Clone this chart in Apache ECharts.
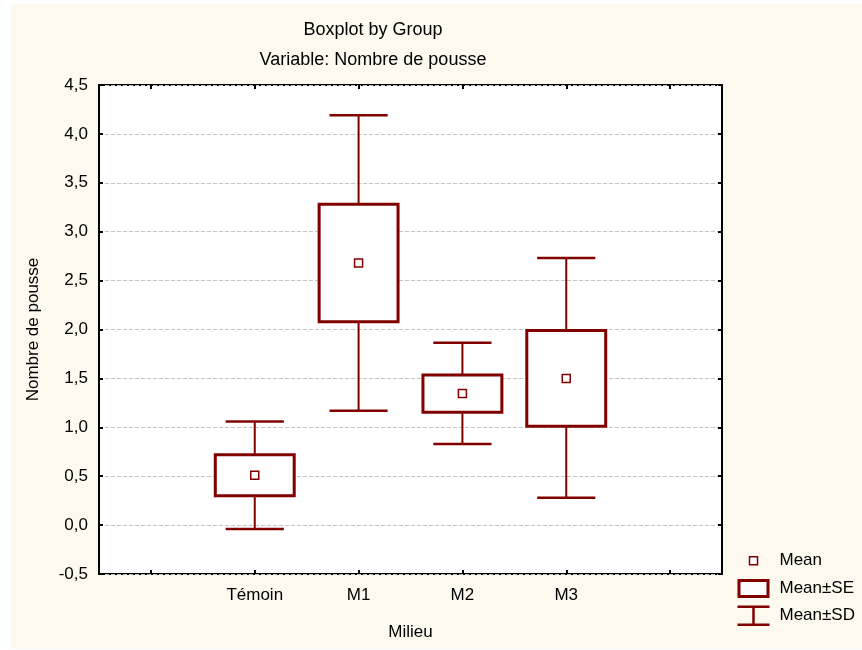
<!DOCTYPE html>
<html>
<head>
<meta charset="utf-8">
<script src="https://cdn.jsdelivr.net/npm/echarts@6/dist/echarts.min.js"></script>
<style>html,body{margin:0;padding:0;background:#fff;}#c{width:862px;height:650px;}</style>
</head>
<body>
<div id="c"></div>
<script>
// ---- data ----
const categories = ['', 'Témoin', 'M1', 'M2', 'M3', ' '];
const groups = ['Témoin', 'M1', 'M2', 'M3'];
const means  = [0.51, 2.68, 1.345, 1.50];
const seLow  = [0.30, 2.08, 1.155, 1.01];
const seHigh = [0.72, 3.28, 1.535, 1.99];
const sdLow  = [-0.04, 1.17, 0.83, 0.28];
const sdHigh = [1.06, 4.19, 1.865, 2.73];
const yMin = -0.5, yMax = 4.5, yStep = 0.5;
const legendNames = ['Mean', 'Mean±SE', 'Mean±SD'];

const RED = '#800000';
const FONT = 'Liberation Sans, Arial, sans-serif';

const sdData = groups.map((g, i) => [g, sdLow[i], sdHigh[i]]);
const seData = groups.map((g, i) => [g, seLow[i], seHigh[i]]);
const meanData = groups.map((g, i) => [g, means[i]]);

function renderSD(params, api) {
  const x = api.value(0);
  const lo = api.coord([x, api.value(1)]);
  const hi = api.coord([x, api.value(2)]);
  const band = api.size([1, 0])[0];
  const half = band * 0.28;
  const st = {stroke: RED, lineWidth: 2.5, fill: null};
  return {
    type: 'group',
    children: [
      {type: 'line', shape: {x1: lo[0], y1: lo[1], x2: hi[0], y2: hi[1]}, style: {stroke: RED, lineWidth: 2}},
      {type: 'line', shape: {x1: hi[0] - half, y1: hi[1], x2: hi[0] + half, y2: hi[1]}, style: st},
      {type: 'line', shape: {x1: lo[0] - half, y1: lo[1], x2: lo[0] + half, y2: lo[1]}, style: st}
    ]
  };
}
function renderSE(params, api) {
  const x = api.value(0);
  const lo = api.coord([x, api.value(1)]);
  const hi = api.coord([x, api.value(2)]);
  const band = api.size([1, 0])[0];
  const w = band * 0.76;
  return {
    type: 'rect',
    shape: {x: hi[0] - w / 2, y: hi[1], width: w, height: lo[1] - hi[1]},
    style: {fill: '#fff', stroke: RED, lineWidth: 3}
  };
}

const chart = echarts.init(document.getElementById('c'), null, {renderer: 'canvas'});
const option = {
  backgroundColor: '#ffffff',
  animation: false,
  textStyle: {fontFamily: FONT},
  graphic: [{
    type: 'rect', z: -100, silent: true,
    shape: {x: 11, y: 4, width: 851, height: 645},
    style: {fill: '#FDF9EE'}
  }],
  title: [
    {text: 'Boxplot by Group', left: 373, top: 20, textAlign: 'center', padding: 0,
     textStyle: {fontFamily: FONT, fontSize: 18, fontWeight: 'normal', color: '#000', lineHeight: 20}},
    {text: 'Variable: Nombre de pousse', left: 373, top: 50, textAlign: 'center', padding: 0,
     textStyle: {fontFamily: FONT, fontSize: 18, fontWeight: 'normal', color: '#000', lineHeight: 20}}
  ],
  legend: {
    orient: 'vertical', left: 736, top: 550, padding: 0,
    itemWidth: 37, itemHeight: 20, itemGap: 5,
    selectedMode: false,
    textStyle: {fontFamily: FONT, fontSize: 17, color: '#000'},
    data: [
      {name: legendNames[0], icon: 'path://M0 0M37 20M12 6L20 6L20 14L12 14Z',
       itemStyle: {color: '#fff', borderColor: RED, borderWidth: 1.5}},
      {name: legendNames[1], icon: 'path://M0 0M37 20M1.5 2.5L30.5 2.5L30.5 18.5L1.5 18.5Z',
       itemStyle: {color: '#fff', borderColor: RED, borderWidth: 3}},
      {name: legendNames[2], icon: 'path://M0 0M37 20M0 1L32 1M16 1L16 19M0 19L32 19',
       itemStyle: {color: 'rgba(0,0,0,0)', borderColor: RED, borderWidth: 2.5}}
    ]
  },
  grid: {
    left: 99, top: 85, right: 140, bottom: 76,
    show: true, backgroundColor: '#ffffff', borderColor: '#000', borderWidth: 2
  },
  xAxis: [
    {
      type: 'category', data: categories, position: 'bottom',
      name: 'Milieu', nameLocation: 'middle', nameGap: 50,
      nameTextStyle: {fontFamily: FONT, fontSize: 17, color: '#000'},
      axisLine: {show: false, onZero: false},
      axisTick: {show: true, inside: true, length: 4, alignWithLabel: true, lineStyle: {color: '#000', width: 2}},
      axisLabel: {fontFamily: FONT, fontSize: 17, color: '#000', margin: 13},
      splitLine: {show: false}
    },
    {
      type: 'category', data: categories, position: 'top',
      axisLine: {show: false, onZero: false},
      axisTick: {show: true, inside: true, length: 4, alignWithLabel: true, lineStyle: {color: '#000', width: 2}},
      axisLabel: {show: false},
      splitLine: {show: false}
    }
  ],
  yAxis: [
    {
      type: 'value', min: yMin, max: yMax, interval: yStep, position: 'left',
      name: 'Nombre de pousse', nameLocation: 'middle', nameGap: 57,
      nameTextStyle: {fontFamily: FONT, fontSize: 17, color: '#000'},
      axisLine: {show: false, onZero: false},
      axisTick: {show: true, inside: true, length: 4, lineStyle: {color: '#000', width: 2}},
      axisLabel: {fontFamily: FONT, fontSize: 17, color: '#000', margin: 11,
        formatter: v => v.toFixed(1).replace('.', ',')},
      splitLine: {show: true, lineStyle: {color: '#c4c4c4', width: 1, type: [4, 2]}}
    },
    {
      type: 'value', min: yMin, max: yMax, interval: yStep, position: 'right',
      axisLine: {show: false, onZero: false},
      axisTick: {show: true, inside: true, length: 4, lineStyle: {color: '#000', width: 2}},
      axisLabel: {show: false},
      splitLine: {show: false}
    }
  ],
  series: [
    {
      name: legendNames[2], type: 'custom', renderItem: renderSD, data: sdData,
      encode: {x: 0, y: [1, 2]}, z: 2, clip: false
    },
    {
      name: legendNames[1], type: 'custom', renderItem: renderSE, data: seData,
      encode: {x: 0, y: [1, 2]}, z: 3, clip: false
    },
    {
      name: legendNames[0], type: 'scatter', data: meanData,
      symbol: 'rect', symbolSize: 8, z: 4,
      itemStyle: {color: '#fff', borderColor: RED, borderWidth: 1.5, opacity: 1}
    }
  ]
};
chart.setOption(option);
</script>
</body>
</html>
